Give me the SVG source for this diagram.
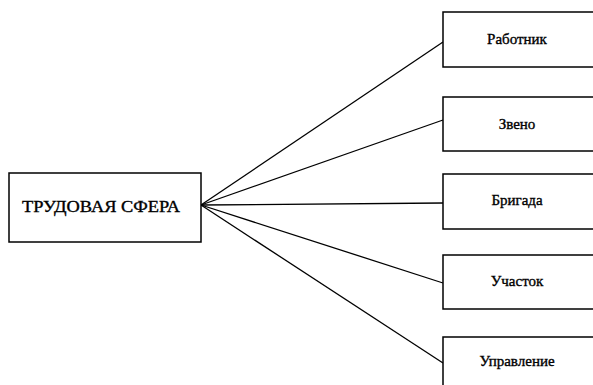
<svg xmlns="http://www.w3.org/2000/svg" width="593" height="385" viewBox="0 0 593 385">
<style>
.box{fill:#fff;stroke:#000;stroke-width:1.5}
.t{font-family:"Liberation Serif","Times New Roman",serif;font-size:15px;fill:#000;text-anchor:middle;stroke:#000;stroke-width:0.35}
.big{font-size:16px}
.c{stroke:#000;stroke-width:1.3;fill:none}
</style>
<rect width="593" height="385" fill="#fff"/>
<g id="connectors">
<line class="c" x1="201" y1="205" x2="443" y2="42"/>
<line class="c" x1="201" y1="205" x2="443" y2="120"/>
<line class="c" x1="201" y1="205" x2="443" y2="203"/>
<line class="c" x1="201" y1="205" x2="443" y2="283"/>
<line class="c" x1="201" y1="205" x2="443" y2="363"/>
</g>
<g id="trud">
<rect class="box" x="9" y="173" width="192" height="69"/>
<text class="t big" x="101" y="212" textLength="158" lengthAdjust="spacingAndGlyphs">ТРУДОВАЯ СФЕРА</text>
</g>
<g id="rabotnik">
<rect class="box" x="443" y="12" width="160" height="55"/>
<text class="t" x="517" y="44">Работник</text>
</g>
<g id="zveno">
<rect class="box" x="443" y="97" width="160" height="54"/>
<text class="t" x="517" y="129">Звено</text>
</g>
<g id="brigada">
<rect class="box" x="443" y="174" width="160" height="55"/>
<text class="t" x="517" y="205">Бригада</text>
</g>
<g id="uchastok">
<rect class="box" x="443" y="255" width="160" height="54"/>
<text class="t" x="517" y="286">Участок</text>
</g>
<g id="upravlenie">
<rect class="box" x="443" y="337" width="160" height="60"/>
<text class="t" x="517" y="366">Управление</text>
</g>
</svg>
